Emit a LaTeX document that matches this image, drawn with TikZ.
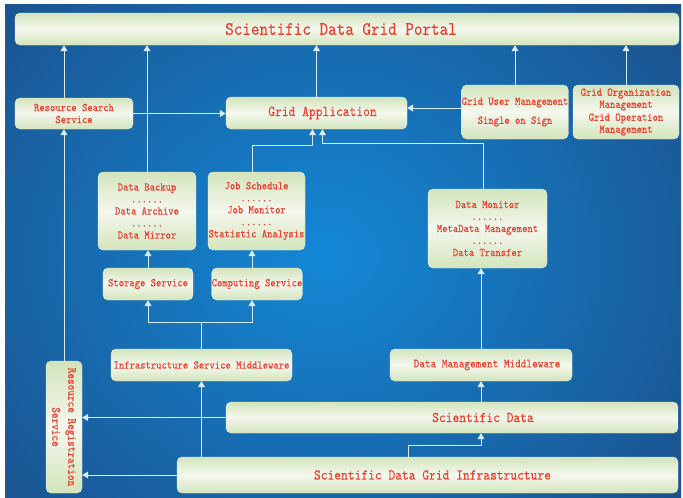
\documentclass[tikz,border=0pt]{standalone}
\usepackage{fontspec}
\newfontfamily\gridfont[FakeStretch=0.86,FakeBold=0.3]{lmmono10-regular.otf}
\usetikzlibrary{arrows.meta,positioning}

\definecolor{boxedge}{HTML}{D2E4BC}
\definecolor{boxmid}{HTML}{F5F8EE}
\definecolor{boxred}{HTML}{E8412F}
\definecolor{bgin}{HTML}{1388D6}
\definecolor{bgout}{HTML}{1C4C86}
\definecolor{linkcol}{HTML}{D8ECF4}

\begin{document}
\begin{tikzpicture}[x=1pt,y=-1pt,
    box/.style={rounded corners=5pt,top color=boxedge,bottom color=boxedge,middle color=boxmid,
        draw=boxmid!60!boxedge,line width=0.4pt,inner sep=0pt,align=center,text=boxred,
        font=\gridfont\fontsize{11.8}{12}\selectfont},
    big/.style={font=\gridfont\fontsize{15}{15}\selectfont},
    wire/.style={draw=linkcol,line width=0.8pt},
    link/.style={wire,-{Triangle[width=7pt,length=6pt]}}]

    % background
    \useasboundingbox (0,0) rectangle (683,498);
    \fill[white] (0,0) rectangle (683,498);
    \begin{scope}
        \clip (5,4) rectangle (681,497);
        \shade[inner color=bgin,outer color=bgout] (-170,-170) rectangle (820,680);
    \end{scope}

    % boxes
    \node[box,minimum width=664,minimum height=32,
        label={[xshift=-6pt,text=boxred,font=\gridfont\fontsize{19}{19}\selectfont]center:Scientific Data Grid Portal}] (P) at (347,29) {};

    \node[box,minimum width=118,minimum height=31] (RS) at (74,113.5) {Resource Search\\Service};
    \node[box,minimum width=181,minimum height=32,
        label={[xshift=6pt,text=boxred,font=\gridfont\fontsize{15}{15}\selectfont]center:Grid Application}] (GA) at (316.5,113) {};
    \node[box,minimum width=106,minimum height=54] (GUM) at (515,112) {Grid User Management\\[7pt]Single on Sign};
    \node[box,minimum width=106,minimum height=54] (GOM) at (626,112) {Grid Organization\\Management\\[1pt]Grid Operation\\Management};

    \node[box,minimum width=98,minimum height=78] (DB) at (147,211) {Data Backup\\......\\Data Archive\\......\\Data Mirror};
    \node[box,minimum width=97,minimum height=78] (JS) at (256.5,211) {Job Schedule\\......\\Job Monitor\\......\\Statistic Analysis};
    \node[box,minimum width=119,minimum height=79] (DM) at (487.5,228.5) {Data Monitor\\......\\MetaData Management\\......\\Data Transfer};

    \node[box,minimum width=90,minimum height=32] (SS) at (148,284) {Storage Service};
    \node[box,minimum width=90,minimum height=32] (CS) at (257,284) {Computing Service};

    \node[box,minimum width=181,minimum height=32] (ISM) at (201.5,365) {Infrastructure Service Middleware};
    \node[box,minimum width=182,minimum height=32,
        label={[xshift=6pt,text=boxred,font=\gridfont\fontsize{12.5}{12}\selectfont]center:Data Management Middleware}] (DMM) at (481,365) {};

    \node[box,minimum width=36,minimum height=132,
        label={[rotate=-90,align=center,text=boxred,font=\gridfont\fontsize{12.5}{16}\selectfont]center:Resource Registration\\Service}] (RRS) at (64,427) {};
    \node[box,minimum width=452,minimum height=31,
        label={[xshift=31pt,text=boxred,font=\gridfont\fontsize{15}{15}\selectfont]center:Scientific Data}] (SD) at (452,417.5) {};
    \node[box,minimum width=501,minimum height=36,
        label={[xshift=5pt,text=boxred,font=\gridfont\fontsize{15}{15}\selectfont]center:Scientific Data Grid Infrastructure}] (SDGI) at (427.5,475) {};

    % into the portal
    \draw[link] (RRS.north |- RS.north) -- (RRS.north |- P.south);
    \draw[link] (DB.north) -- (DB.north |- P.south);
    \draw[link] (GA.north) -- (GA.north |- P.south);
    \draw[link] (GUM.north) -- (GUM.north |- P.south);
    \draw[link] (GOM.north) -- (GOM.north |- P.south);

    % into the grid application
    \coordinate (GA1) at ([xshift=-4pt]GA.south);
    \coordinate (GA2) at ([xshift=6pt]GA.south);
    \draw[link] (RS.east) -- (RS.east -| GA.west);
    \draw[link] ([yshift=4pt]GUM.west) -- ([yshift=4pt]GUM.west -| GA.east);
    \draw[link] ([xshift=-4.5pt]JS.north) -- ++(0,-26) -| (GA1);
    \draw[link] ([xshift=-4.5pt]DM.north) -- ++(0,-45) -| (GA2);

    % services
    \draw[link] (SS.north) -- (SS.north |- DB.south);
    \draw[link] ([xshift=-5pt]CS.north) -- ([xshift=-5pt]CS.north |- JS.south);
    \draw[wire] (ISM.north) -- ++(0,-26) coordinate (F);
    \draw[link] (F) -| (SS.south);
    \draw[link] (F) -| ([xshift=-5pt]CS.south);

    % middleware
    \draw[link] (RRS.north) -- (RRS.north |- RS.south);
    \draw[link] (ISM.south |- SDGI.north) -- (ISM.south);
    \draw[link] (DMM.north) -- (DMM.north |- DM.south);
    \draw[link] (DMM.south |- SD.north) -- (DMM.south);
    \draw[link] ([xshift=-19.5pt]SDGI.north) -- ++(0,-11) -| (DMM.south |- SD.south);

    % registration
    \draw[link] (SD.west) -- (SD.west -| RRS.east);
    \draw[link] (SDGI.west) -- (SDGI.west -| RRS.east);
\end{tikzpicture}
\end{document}
